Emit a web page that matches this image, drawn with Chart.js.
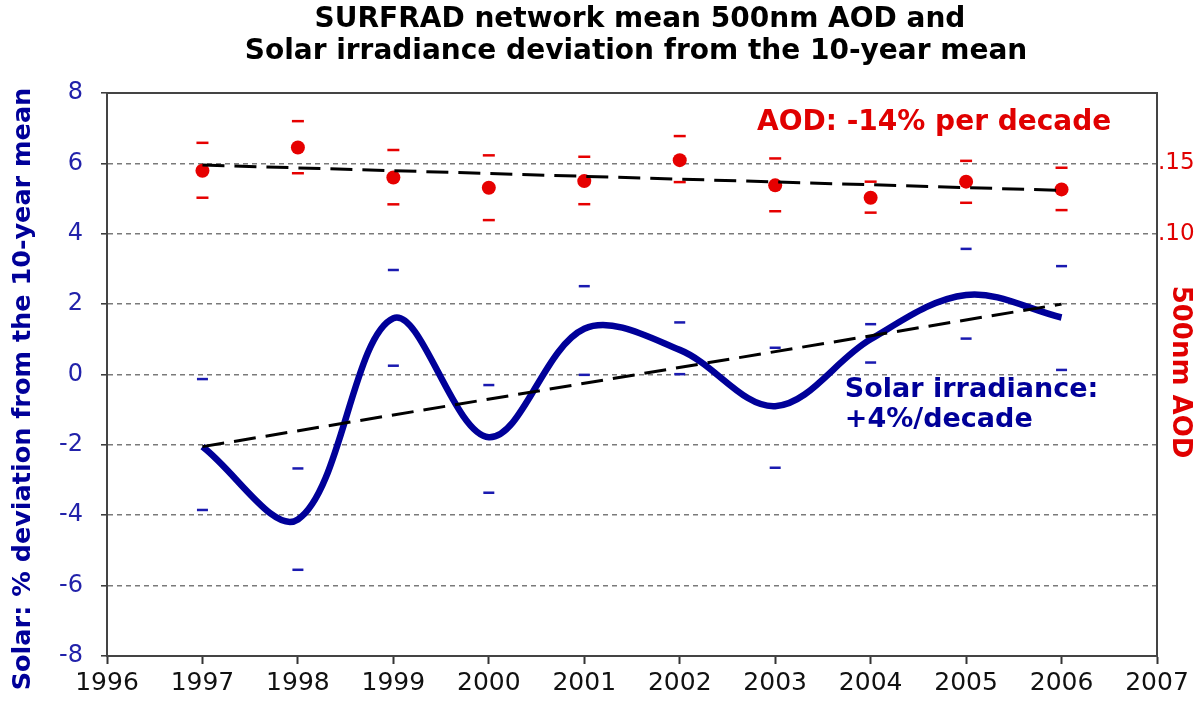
<!DOCTYPE html>
<html>
<head>
<meta charset="utf-8">
<script src="https://cdn.jsdelivr.net/npm/chart.js@4.4.1/dist/chart.umd.min.js"></script>
<style>
  html, body { margin: 0; padding: 0; background: #fff; }
  #wrap { width: 1201px; height: 708px; }
</style>
</head>
<body>
<div id="wrap"><canvas id="chart" width="1201" height="708"></canvas></div>
<script>
// ---- data ----
const years = [1997, 1998, 1999, 2000, 2001, 2002, 2003, 2004, 2005, 2006];

// solar irradiance, % deviation from the 10-year mean (left axis)
const solar     = [-2.05, -4.12, 1.6, -1.78, 1.3, 0.7, -0.9, 1.0, 2.26, 1.62];
const solarHigh = [-0.13, -2.67, 2.97, -0.30, 2.51, 1.48, 0.76, 1.43, 3.57, 3.08];
const solarLow  = [-3.85, -5.55, 0.25, -3.36, -0.01, 0.01, -2.65, 0.34, 1.02, 0.13];

// 500nm AOD (right axis)
const aod     = [0.1448, 0.1613, 0.1400, 0.1327, 0.1374, 0.1523, 0.1344, 0.1256, 0.1370, 0.1315];
const aodHigh = [0.1646, 0.1800, 0.1595, 0.1557, 0.1547, 0.1694, 0.1535, 0.1370, 0.1518, 0.1469];
const aodLow  = [0.1256, 0.1430, 0.1209, 0.1097, 0.1210, 0.1367, 0.1160, 0.1150, 0.1220, 0.1168];

// linear trends (end points)
const trendYears = [1997, 2006];
const solarTrend = [-2.05, 2.0];
const aodTrend   = [0.1488, 0.1308];

// axis labels
const rightTickLabels = { 10: '.10', 15: '.15' };

const titleLines = ['SURFRAD network mean 500nm AOD and',
                    'Solar irradiance deviation from the 10-year mean'];

// ---- helpers ----
const pts = (xs, ys) => xs.map((x, i) => ({ x: x, y: ys[i] }));

const BLUE = '#000099';
const RED = '#e60000';
const AXIS = '#444';

/* extra drawing: top frame line, titles, notes */
const decor = {
    id: 'decor',
    afterDraw(chart) {
        const { ctx, chartArea, scales } = chart;
        ctx.save();

        // top frame line
        ctx.strokeStyle = AXIS;
        ctx.lineWidth = 2;
        ctx.beginPath();
        ctx.moveTo(chartArea.left, chartArea.top);
        ctx.lineTo(chartArea.right, chartArea.top);
        ctx.stroke();

        // main title
        ctx.fillStyle = '#000';
        ctx.font = 'bold 28px "DejaVu Sans"';
        ctx.textAlign = 'center';
        ctx.textBaseline = 'middle';
        ctx.fillText(titleLines[0], 640, 20);
        ctx.fillText(titleLines[1], 636, 52);

        // left axis title
        ctx.save();
        ctx.translate(23, 389);
        ctx.rotate(-Math.PI / 2);
        ctx.fillStyle = BLUE;
        ctx.font = 'bold 25.5px "DejaVu Sans"';
        ctx.fillText('Solar: % deviation from the 10-year mean', 0, 0);
        ctx.restore();

        // right axis title
        ctx.save();
        ctx.translate(1180, 372);
        ctx.rotate(Math.PI / 2);
        ctx.fillStyle = '#e00000';
        ctx.font = 'bold 26px "DejaVu Sans"';
        ctx.fillText('500nm AOD', 0, 0);
        ctx.restore();

        // notes
        const x = scales.x, y = scales.y;
        ctx.textAlign = 'left';
        ctx.font = 'bold 28px "DejaVu Sans"';
        ctx.fillStyle = '#e00000';
        ctx.fillText('AOD: -14% per decade', x.getPixelForValue(2002.81), y.getPixelForValue(7.15));
        ctx.font = 'bold 27px "DejaVu Sans"';
        ctx.fillStyle = BLUE;
        ctx.fillText('Solar irradiance:', x.getPixelForValue(2003.73), y.getPixelForValue(-0.44));
        ctx.fillText('+4%/decade', x.getPixelForValue(2003.73), y.getPixelForValue(-1.29));

        ctx.restore();
    }
};

new Chart(document.getElementById('chart'), {
    type: 'line',
    data: {
        datasets: [
            {   // AOD trend
                data: pts(trendYears, aodTrend), yAxisID: 'y2',
                borderColor: '#000', borderWidth: 3, borderDash: [22, 10],
                pointRadius: 0, tension: 0, order: 0
            },
            {   // solar trend
                data: pts(trendYears, solarTrend), yAxisID: 'y',
                borderColor: '#000', borderWidth: 3, borderDash: [22, 10],
                pointRadius: 0, tension: 0, order: 1
            },
            {   // AOD means
                data: pts(years, aod), yAxisID: 'y2', showLine: false,
                pointRadius: 7, pointBackgroundColor: RED, pointBorderWidth: 0, order: 2
            },
            {   // AOD upper bars
                data: pts(years, aodHigh), yAxisID: 'y2', showLine: false,
                pointStyle: 'line', pointRadius: 6, borderColor: RED, pointBorderWidth: 2.5, order: 3
            },
            {   // AOD lower bars
                data: pts(years, aodLow), yAxisID: 'y2', showLine: false,
                pointStyle: 'line', pointRadius: 6, borderColor: RED, pointBorderWidth: 2.5, order: 3
            },
            {   // solar upper bars
                data: pts(years, solarHigh), yAxisID: 'y', showLine: false,
                pointStyle: 'line', pointRadius: 5.5, borderColor: '#1a1ab0', pointBorderWidth: 2.5, order: 4
            },
            {   // solar lower bars
                data: pts(years, solarLow), yAxisID: 'y', showLine: false,
                pointStyle: 'line', pointRadius: 5.5, borderColor: '#1a1ab0', pointBorderWidth: 2.5, order: 4
            },
            {   // solar irradiance, smoothed
                data: pts(years, solar), yAxisID: 'y',
                borderColor: BLUE, borderWidth: 6.5, tension: 0.35,
                pointRadius: 0, fill: false, order: 5
            }
        ]
    },
    options: {
        responsive: false,
        animation: false,
        devicePixelRatio: 1,
        layout: { padding: { top: 93, left: 0, right: 0, bottom: 0 } },
        plugins: {
            legend: { display: false },
            tooltip: { enabled: false }
        },
        scales: {
            x: {
                type: 'linear', position: 'bottom', min: 1996, max: 2007,
                ticks: {
                    stepSize: 1, color: '#111', padding: 4,
                    font: { family: 'DejaVu Sans', size: 25 },
                    callback: v => String(v)
                },
                grid: { drawOnChartArea: false, tickLength: 8, tickColor: '#333', tickWidth: 2 },
                border: { color: AXIS, width: 2 },
                afterFit: s => { s.height = 52; }
            },
            y: {
                position: 'left', min: -8, max: 8,
                ticks: {
                    stepSize: 2, color: '#2222aa', padding: 18,
                    font: { family: 'DejaVu Sans', size: 24 }
                },
                grid: {
                    color: c => (c.tick && Math.abs(c.tick.value) === 8) ? 'rgba(0,0,0,0)' : '#7a7a7a',
                    lineWidth: 1.6, tickLength: 6, tickColor: '#333', tickWidth: 1.5
                },
                border: { color: AXIS, width: 2, dash: [5, 4] },
                afterFit: s => { s.width = 107; }
            },
            y2: {
                position: 'right', min: -0.2, max: 0.2,
                ticks: {
                    stepSize: 0.05, color: '#e00000', padding: 1,
                    font: { family: 'DejaVu Sans', size: 23 },
                    callback: v => rightTickLabels[Math.round(v * 100)] || ''
                },
                grid: { drawOnChartArea: false, drawTicks: false },
                border: { color: AXIS, width: 2 },
                afterFit: s => { s.width = 44; }
            }
        }
    },
    plugins: [decor]
});
</script>
</body>
</html>
